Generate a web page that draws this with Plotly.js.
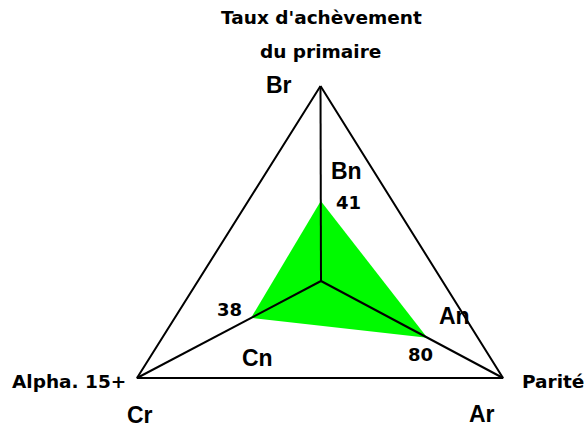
<!DOCTYPE html>
<html>
<head>
<meta charset="utf-8">
<script src="https://cdn.plot.ly/plotly-3.0.1.min.js"></script>
<style>html,body{margin:0;padding:0;background:#fff;}#chart{width:584px;height:428px;}</style>
</head>
<body>
<div id="chart"></div>
<script>
// ---- data ----
const axisNames = ["Taux d'achèvement<br>du primaire", "Parité", "Alpha. 15+"];
const values = [41, 80, 38];
const axisMax = [100, 137, 100];
const outerLabels = ["Br", "Ar", "Cr"];
const innerLabels = ["Bn", "An", "Cn"];

// ---- geometry (pixel-like coordinates on hidden axes) ----
const center = {x: 321, y: 281};
const vertices = [{x: 320.5, y: 86}, {x: 503, y: 378}, {x: 137, y: 378}];

function pointAt(i, v) {
  const f = v / axisMax[i];
  return {x: center.x + f * (vertices[i].x - center.x), y: center.y + f * (vertices[i].y - center.y)};
}

const pts = values.map((v, i) => pointAt(i, v));

const traces = [];
// green data polygon
traces.push({
  type: 'scatter', mode: 'lines', fill: 'toself', fillcolor: '#00fa00',
  x: pts.map(p => p.x).concat([pts[0].x]),
  y: pts.map(p => p.y).concat([pts[0].y]),
  line: {width: 0, color: 'rgba(0,0,0,0)'}, hoverinfo: 'skip', showlegend: false
});
// outer triangle
traces.push({
  type: 'scatter', mode: 'lines',
  x: vertices.map(p => p.x).concat([vertices[0].x]),
  y: vertices.map(p => p.y).concat([vertices[0].y]),
  line: {width: 2, color: '#000'}, hoverinfo: 'skip', showlegend: false
});
// spokes
vertices.forEach(v => {
  traces.push({
    type: 'scatter', mode: 'lines',
    x: [center.x, v.x], y: [center.y, v.y],
    line: {width: 2, color: '#000'}, hoverinfo: 'skip', showlegend: false
  });
});

const titleFont = {family: 'DejaVu Sans', size: 18.5, color: '#000'};
const labelFont = {family: 'Liberation Sans, Arial', size: 23, color: '#000'};
const numFont = {family: 'DejaVu Sans', size: 18, color: '#000'};

const ann = (x, y, text, font) => ({x: x, y: y, xref: 'x', yref: 'y', text: text, showarrow: false, xanchor: 'center', yanchor: 'middle', font: font});

const annotations = [
  ann(321, 17, '<b>' + axisNames[0].split('<br>')[0] + '</b>', titleFont),
  ann(320, 51, '<b>' + axisNames[0].split('<br>')[1] + '</b>', titleFont),
  ann(553, 381, '<b>' + axisNames[1] + '</b>', titleFont),
  ann(68.5, 381, '<b>' + axisNames[2] + '</b>', titleFont),
  ann(279, 85, '<b>' + outerLabels[0] + '</b>', labelFont),
  ann(482, 414, '<b>' + outerLabels[1] + '</b>', labelFont),
  ann(140, 415, '<b>' + outerLabels[2] + '</b>', labelFont),
  ann(346, 171, '<b>' + innerLabels[0] + '</b>', labelFont),
  ann(454, 316, '<b>' + innerLabels[1] + '</b>', labelFont),
  ann(257, 358, '<b>' + innerLabels[2] + '</b>', labelFont),
  ann(348, 202, '<b>' + values[0] + '</b>', numFont),
  ann(420, 354, '<b>' + values[1] + '</b>', numFont),
  ann(229, 309, '<b>' + values[2] + '</b>', numFont)
];

const layout = {
  width: 584, height: 428,
  margin: {l: 0, r: 0, t: 0, b: 0},
  paper_bgcolor: '#fff', plot_bgcolor: '#fff',
  xaxis: {range: [0, 584], visible: false, fixedrange: true},
  yaxis: {range: [428, 0], visible: false, fixedrange: true},
  showlegend: false,
  annotations: annotations
};

Plotly.newPlot('chart', traces, layout, {displayModeBar: false, staticPlot: true});
</script>
</body>
</html>
